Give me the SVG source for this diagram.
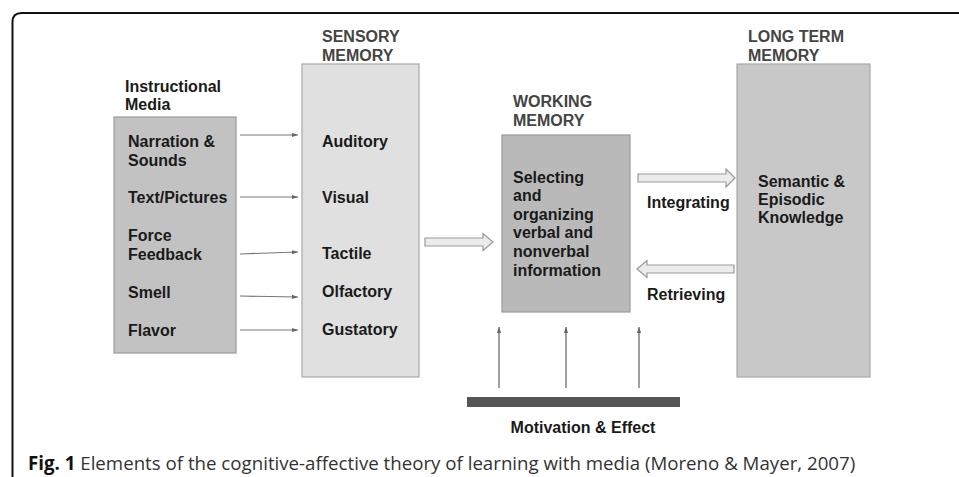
<svg xmlns="http://www.w3.org/2000/svg" width="959" height="477" viewBox="0 0 959 477">
<defs>
<marker id="ah" viewBox="0 0 10 10" refX="10" refY="5" markerWidth="6" markerHeight="6" orient="auto" markerUnits="userSpaceOnUse">
<path d="M0,1.5 L10,5 L0,8.5 z" fill="#666"/>
</marker>
<style>
.t{font-family:"Liberation Sans",Arial,sans-serif;font-weight:bold;font-size:16px;fill:#1a1a1a}
.h{font-family:"Liberation Sans",Arial,sans-serif;font-weight:bold;font-size:16px;fill:#444}
.ln{stroke:#777;stroke-width:1.2;fill:none;marker-end:url(#ah)}
.vl{stroke:#888;stroke-width:1.6;fill:none;marker-end:url(#ah)}
.ha{fill:#ececec;stroke:#999;stroke-width:1.2}
.cap{font-family:"Open Sans","Noto Sans",sans-serif;font-size:18.7px;fill:#333}
</style>
</defs>
<rect width="959" height="477" fill="#fff"/>
<path d="M12.5,477 V22 Q12.5,13 21.5,13 H959" fill="none" stroke="#111" stroke-width="2"/>

<g id="instructional-media">
<text class="t" x="125" y="92">Instructional</text>
<text class="t" x="125" y="110">Media</text>
<rect x="114" y="117" width="122" height="236" fill="#c2c2c2" stroke="#9a9a9a" stroke-width="1.2"/>
<text class="t" x="128" y="147">Narration &amp;</text>
<text class="t" x="128" y="166">Sounds</text>
<text class="t" x="128" y="203">Text/Pictures</text>
<text class="t" x="128" y="241">Force</text>
<text class="t" x="128" y="260">Feedback</text>
<text class="t" x="128" y="298">Smell</text>
<text class="t" x="128" y="336">Flavor</text>
</g>

<g id="sensory-memory">
<text class="h" x="322" y="42">SENSORY</text>
<text class="h" x="322" y="61">MEMORY</text>
<rect x="302" y="64" width="117" height="313" fill="#e0e0e0" stroke="#a8a8a8" stroke-width="1.2"/>
<text class="t" x="322" y="147">Auditory</text>
<text class="t" x="322" y="203">Visual</text>
<text class="t" x="322" y="259">Tactile</text>
<text class="t" x="322" y="297">Olfactory</text>
<text class="t" x="322" y="335">Gustatory</text>
</g>

<g id="working-memory">
<text class="h" x="513" y="107">WORKING</text>
<text class="h" x="513" y="126">MEMORY</text>
<rect x="502" y="135" width="128" height="177" fill="#b9b9b9" stroke="#999" stroke-width="1.2"/>
<text class="t" x="513" y="183">Selecting</text>
<text class="t" x="513" y="201">and</text>
<text class="t" x="513" y="220">organizing</text>
<text class="t" x="513" y="238">verbal and</text>
<text class="t" x="513" y="257">nonverbal</text>
<text class="t" x="513" y="276">information</text>
</g>

<g id="long-term-memory">
<text class="h" x="748" y="42">LONG TERM</text>
<text class="h" x="748" y="61">MEMORY</text>
<rect x="737" y="64" width="133" height="313" fill="#c8c8c8" stroke="#a8a8a8" stroke-width="1.2"/>
<text class="t" x="758" y="187">Semantic &amp;</text>
<text class="t" x="758" y="205">Episodic</text>
<text class="t" x="758" y="223">Knowledge</text>
</g>

<g id="motivation">
<rect x="467" y="397" width="213" height="10" fill="#555"/>
<text class="t" x="583" y="433" text-anchor="middle">Motivation &amp; Effect</text>
</g>

<g id="connectors">
<line class="ln" x1="240" y1="135" x2="298" y2="135"/>
<line class="ln" x1="240" y1="197" x2="298" y2="197"/>
<line class="ln" x1="240" y1="254" x2="298" y2="252"/>
<line class="ln" x1="240" y1="296" x2="298" y2="297"/>
<line class="ln" x1="240" y1="330" x2="298" y2="330"/>
<path class="ha" d="M425,238 H483 V233.5 L493,242 L483,250.5 V246 H425 Z"/>
<path class="ha" d="M638,174 H726 V169 L735,178 L726,187 V182 H638 Z"/>
<path class="ha" d="M734,265 H647 V260.5 L637,269 L647,277.5 V273 H734 Z"/>
<line class="vl" x1="499" y1="388" x2="499" y2="327"/>
<line class="vl" x1="566" y1="388" x2="566" y2="327"/>
<line class="vl" x1="639" y1="388" x2="639" y2="327"/>
<text class="t" x="647" y="208">Integrating</text>
<text class="t" x="647" y="300">Retrieving</text>
</g>

<text class="cap" x="28" y="470"><tspan font-weight="bold" fill="#111">Fig. 1</tspan> Elements of the cognitive-affective theory of learning with media (Moreno &amp; Mayer, 2007)</text>
</svg>
